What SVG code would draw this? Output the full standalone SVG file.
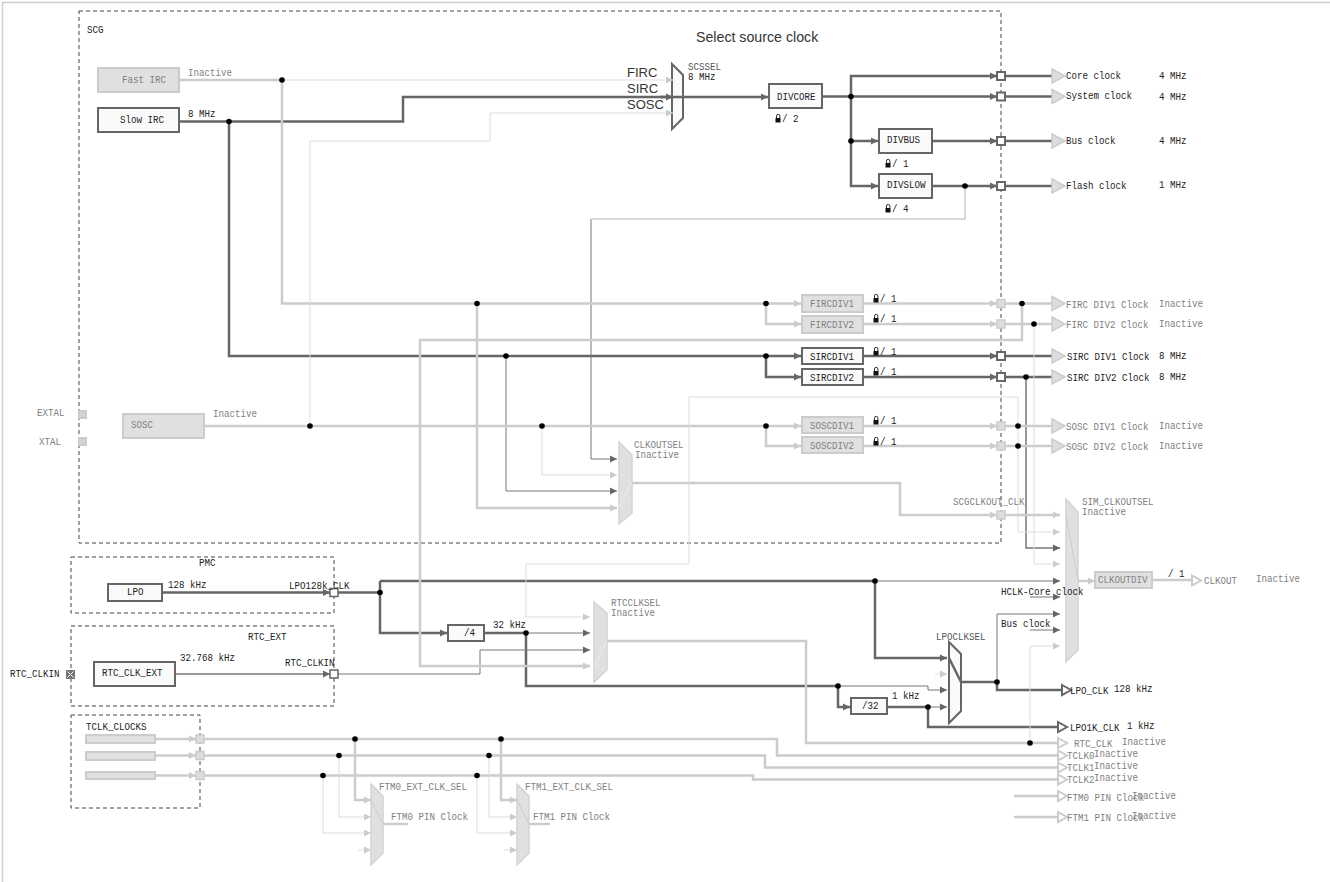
<svg xmlns="http://www.w3.org/2000/svg" width="1330" height="882" viewBox="0 0 1330 882">
<style>
text{font-family:"Liberation Mono","DejaVu Sans Mono",monospace;font-size:11px;fill:#222}
text.g{fill:#808080}
text.k{fill:#555}
text.s{font-family:"Liberation Sans",Arial,sans-serif;font-size:14px;fill:#333}
.box{fill:none;stroke:#444;stroke-width:1;stroke-dasharray:4 3}
.na{fill:#fafafa;stroke:#666;stroke-width:2}
.ni{fill:#e0e0e0;stroke:#ccc;stroke-width:2}
.mi{fill:#e0e0e0;stroke:#d4d4d4;stroke-width:1.5}
.pa{fill:#fff;stroke:#666;stroke-width:2}
.pi{fill:#ddd;stroke:#ccc;stroke-width:1.5}
.ta{fill:#ddd;stroke:#ccc;stroke-width:1.5}
.ho{fill:#fff;stroke:#ccc;stroke-width:2}
.hd{fill:#fff;stroke:#666;stroke-width:2}
#connectors path{fill:none}
.a{stroke:#666;stroke-width:2.5}
.b{stroke:#777;stroke-width:1}
.c{stroke:#ccc;stroke-width:2.5}
.d{stroke:#ddd;stroke-width:1}
.e{stroke:#ccc;stroke-width:1.5}
.f{stroke:#eee;stroke-width:1}
.h{stroke:#ccc;stroke-width:1}
.ma{marker-end:url(#ad)}
.ml{marker-end:url(#al)}
.dot{fill:#000}
</style>
<defs>
<marker id="ad" markerUnits="userSpaceOnUse" markerWidth="7" markerHeight="8" refX="7" refY="4" orient="auto"><path d="M0 0.5L7 4L0 7.5Z" fill="#666"/></marker>
<marker id="al" markerUnits="userSpaceOnUse" markerWidth="7" markerHeight="8" refX="7" refY="4" orient="auto"><path d="M0 0.5L7 4L0 7.5Z" fill="#ccc"/></marker>
<g id="lock"><path d="M-1.5 0V-2a1.7 1.7 0 0 1 3.4 0V0" fill="none" stroke="#333" stroke-width="1"/><rect x="-2.5" y="0" width="5" height="4.5" fill="#111"/></g>
<polygon id="tri" points="0,-7 13,0 0,7"/>
<polygon id="tr2" points="0,-5 9,0 0,5"/>
<path id="xm" d="M-3 -3L3 3M3 -3L-3 3"/>
</defs>
<rect width="1330" height="882" fill="#fff"/>
<path d="M2.5 882V2.5H1330" fill="none" stroke="#d0d0d0" stroke-width="1.5"/>

<g id="frames">
<rect class="box" x="79" y="11" width="922" height="532"/>
<rect class="box" x="71" y="557" width="263" height="56"/>
<rect class="box" x="71" y="626" width="263" height="80"/>
<rect class="box" x="71" y="715" width="129" height="93"/>
<text x="87" y="33" textLength="16.5" lengthAdjust="spacingAndGlyphs">SCG</text>
<text x="199" y="566" textLength="16.5" lengthAdjust="spacingAndGlyphs">PMC</text>
<text x="248" y="640" textLength="38.5" lengthAdjust="spacingAndGlyphs">RTC_EXT</text>
<text x="86" y="730" textLength="60.5" lengthAdjust="spacingAndGlyphs">TCLK_CLOCKS</text>
</g>

<g id="nodes">
<g id="fast-irc"><rect class="ni" x="98" y="68" width="81" height="24"/><text class="g" x="122" y="83" textLength="44" lengthAdjust="spacingAndGlyphs">Fast IRC</text></g>
<g id="slow-irc"><rect class="na" x="98" y="108" width="81" height="24"/><text x="120" y="123" textLength="44" lengthAdjust="spacingAndGlyphs">Slow IRC</text></g>
<g id="sosc"><rect class="ni" x="123" y="414" width="81" height="24"/><text class="g" x="131" y="428" textLength="22" lengthAdjust="spacingAndGlyphs">SOSC</text></g>
<g id="scssel"><polygon class="na" points="672,64 683,75 683,118 672,129"/><text x="688" y="70" class="k" textLength="33" lengthAdjust="spacingAndGlyphs">SCSSEL</text><text x="688" y="80" textLength="27.5" lengthAdjust="spacingAndGlyphs">8 MHz</text></g>
<g id="divcore"><rect class="na" x="769" y="84" width="53" height="24"/><text x="777" y="100" textLength="38.5" lengthAdjust="spacingAndGlyphs">DIVCORE</text></g>
<g id="divbus"><rect class="na" x="879" y="129" width="53" height="24"/><text x="887" y="143" textLength="33" lengthAdjust="spacingAndGlyphs">DIVBUS</text></g>
<g id="divslow"><rect class="na" x="879" y="174" width="53" height="24"/><text x="887" y="188" textLength="38.5" lengthAdjust="spacingAndGlyphs">DIVSLOW</text></g>
<g id="fircdiv1"><rect class="ni" x="802" y="295" width="61" height="17"/><text class="g" x="810" y="307" textLength="44" lengthAdjust="spacingAndGlyphs">FIRCDIV1</text></g>
<g id="fircdiv2"><rect class="ni" x="802" y="316" width="61" height="17"/><text class="g" x="810" y="328" textLength="44" lengthAdjust="spacingAndGlyphs">FIRCDIV2</text></g>
<g id="sircdiv1"><rect class="na" x="802" y="348" width="61" height="16"/><text x="810" y="360" textLength="44" lengthAdjust="spacingAndGlyphs">SIRCDIV1</text></g>
<g id="sircdiv2"><rect class="na" x="802" y="369" width="61" height="16"/><text x="810" y="381" textLength="44" lengthAdjust="spacingAndGlyphs">SIRCDIV2</text></g>
<g id="soscdiv1"><rect class="ni" x="802" y="417" width="61" height="16"/><text class="g" x="810" y="429" textLength="44" lengthAdjust="spacingAndGlyphs">SOSCDIV1</text></g>
<g id="soscdiv2"><rect class="ni" x="802" y="437" width="61" height="16"/><text class="g" x="810" y="449" textLength="44" lengthAdjust="spacingAndGlyphs">SOSCDIV2</text></g>
<g id="clkoutsel"><polygon class="mi" points="619,442 632,455 632,513 619,524"/><text class="g" x="634" y="448" textLength="49.5" lengthAdjust="spacingAndGlyphs">CLKOUTSEL</text><text class="g" x="635" y="458" textLength="44" lengthAdjust="spacingAndGlyphs">Inactive</text></g>
<g id="sim-clkoutsel"><polygon class="mi" points="1066,499 1078,512 1078,650 1066,662"/><text class="g" x="1082" y="505" textLength="71.5" lengthAdjust="spacingAndGlyphs">SIM_CLKOUTSEL</text><text class="g" x="1082" y="515" textLength="44" lengthAdjust="spacingAndGlyphs">Inactive</text></g>
<g id="clkoutdiv"><rect class="ni" x="1095" y="572" width="57" height="16"/><text class="g" x="1098" y="583" textLength="49.5" lengthAdjust="spacingAndGlyphs">CLKOUTDIV</text></g>
<g id="lpo"><rect class="na" x="108" y="584" width="54" height="17"/><text x="127" y="595" textLength="16.5" lengthAdjust="spacingAndGlyphs">LPO</text></g>
<g id="rtc-clk-ext"><rect class="na" x="94" y="662" width="81" height="24"/><text x="102" y="676" textLength="60.5" lengthAdjust="spacingAndGlyphs">RTC_CLK_EXT</text></g>
<g id="div4"><rect class="na" x="448" y="625" width="36" height="16"/><text x="464" y="636" textLength="11" lengthAdjust="spacingAndGlyphs">/4</text></g>
<g id="div32"><rect class="na" x="851" y="698" width="36" height="16"/><text x="862" y="709" textLength="16.5" lengthAdjust="spacingAndGlyphs">/32</text></g>
<g id="rtcclksel"><polygon class="mi" points="594,602 607,613 607,670 594,682"/><text class="g" x="611" y="606" textLength="49.5" lengthAdjust="spacingAndGlyphs">RTCCLKSEL</text><text class="g" x="611" y="616" textLength="44" lengthAdjust="spacingAndGlyphs">Inactive</text></g>
<g id="lpoclksel"><polygon class="na" points="949,642 961,654 961,711 949,723"/><text x="936" y="640" class="k" textLength="49.5" lengthAdjust="spacingAndGlyphs">LPOCLKSEL</text></g>
<g id="ftm0-sel"><polygon class="mi" points="371,784 383,796 383,853 371,865"/><text class="g" x="379" y="790" textLength="88" lengthAdjust="spacingAndGlyphs">FTM0_EXT_CLK_SEL</text></g>
<g id="ftm1-sel"><polygon class="mi" points="517,784 529,796 529,853 517,865"/><text class="g" x="525" y="790" textLength="88" lengthAdjust="spacingAndGlyphs">FTM1_EXT_CLK_SEL</text></g>
<g id="tclk-sources"><rect class="ni" x="86" y="735" width="69" height="8"/><rect class="ni" x="86" y="752" width="69" height="8"/><rect class="ni" x="86" y="772" width="69" height="7"/></g>
</g>

<g id="connectors">
<path class="a ma" d="M180 121.500H403V97H768"/>
<path class="a ma" d="M660 97H673"/>
<path class="a ma" d="M229 121.500V356H801"/>
<path class="a ma" d="M766 356V377H801"/>
<path class="a ma" d="M863 356H997"/>
<path class="a ma" d="M863 377H997"/>
<path class="a" d="M1005 356H1053M1005 377H1053"/>
<path class="a ma" d="M822 96.500H997"/>
<path class="a ma" d="M851 96.500V76H997"/>
<path class="a ma" d="M851 96.500V186H878"/>
<path class="a ma" d="M851 141H878"/>
<path class="a ma" d="M932 141H997"/>
<path class="a ma" d="M932 186H997"/>
<path class="a" d="M1005 76H1053M1005 96.500H1053M1005 141H1053M1005 186H1053"/>
<path class="a ma" d="M162 592.500H330"/>
<path class="a" d="M338 592.500H380"/>
<path class="a ma" d="M380 581V633H447"/>
<path class="a" d="M380 581H875"/>
<path class="a ma" d="M875 581V658H947"/>
<path class="a" d="M484 633H526V686H838"/>
<path class="a ma" d="M838 686V707H850"/>
<path class="a" d="M887 707H928V727H1058"/>
<path class="a" d="M949 658L961 682"/>
<path class="a" d="M961 682H997V690H1062"/>
<path class="b ma" d="M875 581H1060"/>
<path class="b ma" d="M526 633H590"/>
<path class="b ma" style="stroke-width:1.5" d="M175 674H330"/>
<path class="b ma" d="M338 674H480V650H590"/>
<path class="b ma" d="M838 686H928V690H947"/>
<path class="b ma" d="M928 707H947"/>
<path class="b ma" d="M506 356V491H617"/>
<path class="b ma" d="M591 219V459H617"/>
<path class="e" d="M965 186V219H591"/>
<path class="b ma" style="stroke-width:1.5" d="M1026 377V548H1060"/>
<path class="b ma" d="M1030 597H1060"/>
<path class="b ma" d="M1030 630H1060"/>
<path class="b ma" d="M997 682V614H1060"/>
<path class="c" d="M180 80H282"/>
<path class="c ml" d="M282 80V303.500H801"/>
<path class="c ml" d="M766 303.500V324H801"/>
<path class="c ml" d="M863 303.500H997"/>
<path class="c ml" d="M863 324H997"/>
<path class="c" d="M1005 303.500H1053M1005 324H1053"/>
<path class="c ml" d="M1022 303.500V340H420V666H590"/>
<path class="c ml" d="M477 303.500V508H617"/>
<path class="c ml" d="M204 426H801"/>
<path class="c ml" d="M766 426V446H801"/>
<path class="c ml" d="M863 426H997"/>
<path class="c ml" d="M863 446H997"/>
<path class="c" d="M1005 426H1053M1005 446H1053"/>
<path class="c ml" d="M632 483H900V515H997"/>
<path class="c ml" d="M1005 515H1060"/>
<path class="c ml" d="M1078 581H1095"/>
<path class="c" d="M1152 580H1192"/>
<path class="c" d="M607 641H806V743H1058"/>
<path class="c ml" d="M155 739H196"/>
<path class="c ml" d="M155 755.500H196"/>
<path class="c ml" d="M155 775.500H196"/>
<path class="c" d="M204 739H777V755.500H1058"/>
<path class="c" d="M204 755.500H765V767.500H1058"/>
<path class="c" d="M204 775.500H753V779.500H1058"/>
<path class="c ml" d="M355 739V800H371"/>
<path class="c ml" d="M501 739V800H517"/>
<path class="c" d="M383 824H408M529 824H550"/>
<path class="c" d="M1014 796H1058M1014 817H1058"/>
<path class="d ml" d="M282 80H673"/>
<path class="d ml" d="M310 426V141H490V113H673"/>
<path class="d ml" d="M542 426V475H617"/>
<path class="d ml" d="M1034 324V564H1060"/>
<path class="d ml" d="M1018 532V397H689V564H526V617H590"/>
<path class="d ml" d="M1018 532H1060"/>
<path class="d ml" d="M1030 743V646H1060"/>
<path class="d ml" d="M339 755.500V817H371"/>
<path class="d ml" d="M323 775.500V833H371"/>
<path class="d ml" d="M489 755.500V817H517"/>
<path class="d ml" d="M477 775.500V833H517"/>
<path class="d ml" d="M358 850H371"/>
<path class="d ml" d="M504 850H517"/>
<path class="d ml" d="M935 674H947"/>
<path class="f" d="M619 507L632 483M594 666L607 641"/>
<path class="h" d="M1066 516L1078 580M371 800L383 824M517 800L529 824"/>
<g id="junctions">
<circle class="dot" cx="282" cy="80" r="2.800"/><circle class="dot" cx="229" cy="121.500" r="2.800"/>
<circle class="dot" cx="851" cy="96.500" r="2.800"/><circle class="dot" cx="851" cy="141" r="2.800"/><circle class="dot" cx="965" cy="186" r="2.800"/>
<circle class="dot" cx="477" cy="303.500" r="2.800"/><circle class="dot" cx="766" cy="303.500" r="2.800"/><circle class="dot" cx="1022" cy="303.500" r="2.800"/><circle class="dot" cx="1034" cy="324" r="2.800"/>
<circle class="dot" cx="506" cy="356" r="2.800"/><circle class="dot" cx="766" cy="356" r="2.800"/><circle class="dot" cx="1026" cy="377" r="2.800"/>
<circle class="dot" cx="310" cy="426" r="2.800"/><circle class="dot" cx="542" cy="426" r="2.800"/><circle class="dot" cx="766" cy="426" r="2.800"/><circle class="dot" cx="1018" cy="426" r="2.800"/><circle class="dot" cx="1018" cy="446" r="2.800"/>
<circle class="dot" cx="380" cy="592.500" r="2.800"/><circle class="dot" cx="875" cy="581" r="2.800"/><circle class="dot" cx="526" cy="633" r="2.800"/><circle class="dot" cx="838" cy="686" r="2.800"/><circle class="dot" cx="928" cy="707" r="2.800"/><circle class="dot" cx="997" cy="682" r="2.800"/><circle class="dot" cx="1030" cy="743" r="2.800"/>
<circle class="dot" cx="355" cy="739" r="2.800"/><circle class="dot" cx="339" cy="755.500" r="2.800"/><circle class="dot" cx="323" cy="775.500" r="2.800"/><circle class="dot" cx="501" cy="739" r="2.800"/><circle class="dot" cx="489" cy="755.500" r="2.800"/><circle class="dot" cx="477" cy="775.500" r="2.800"/>
</g>
</g>

<g id="ports">
<rect class="pa" x="997" y="72" width="8" height="8"/><rect class="pa" x="997" y="92.500" width="8" height="8"/><rect class="pa" x="997" y="137" width="8" height="8"/><rect class="pa" x="997" y="182" width="8" height="8"/>
<rect class="pa" x="997" y="352" width="8" height="8"/><rect class="pa" x="997" y="373" width="8" height="8"/>
<rect class="pi" x="997" y="299.500" width="8" height="8"/><rect class="pi" x="997" y="320" width="8" height="8"/><rect class="pi" x="997" y="422" width="8" height="8"/><rect class="pi" x="997" y="442" width="8" height="8"/><rect class="pi" x="997" y="511" width="8" height="8"/>
<rect class="pa" x="330" y="588.500" width="8" height="8" style="stroke-width:1.500"/><rect class="pa" x="330" y="670" width="8" height="8" style="stroke-width:1.500"/>
<rect class="pi" x="196" y="735" width="8" height="8"/><rect class="pi" x="196" y="751.500" width="8" height="8"/><rect class="pi" x="196" y="771.500" width="8" height="8"/>
<g id="pad-extal"><rect x="78" y="410" width="9" height="9" fill="#ccc"/><use href="#xm" x="82.500" y="414.500" stroke="#ddd"/></g>
<g id="pad-xtal"><rect x="78" y="437" width="9" height="9" fill="#ccc"/><use href="#xm" x="82.500" y="441.500" stroke="#ddd"/></g>
<g id="pad-rtc"><rect x="66" y="670" width="9" height="9" fill="#777"/><use href="#xm" x="70.500" y="674.500" stroke="#eee"/></g>
</g>

<g id="outputs">
<g class="ta"><use href="#tri" x="1052" y="76"/><use href="#tri" x="1052" y="96.500"/><use href="#tri" x="1052" y="141"/><use href="#tri" x="1052" y="186"/><use href="#tri" x="1052" y="303.500"/><use href="#tri" x="1052" y="324"/><use href="#tri" x="1052" y="356"/><use href="#tri" x="1052" y="377"/><use href="#tri" x="1052" y="426"/><use href="#tri" x="1052" y="446"/></g>
<g class="ho"><use href="#tr2" x="1192" y="580.500"/><use href="#tr2" x="1058" y="743"/><use href="#tr2" x="1058" y="755.500"/><use href="#tr2" x="1058" y="767.500"/><use href="#tr2" x="1058" y="779.500"/><use href="#tr2" x="1058" y="796"/><use href="#tr2" x="1058" y="817"/></g>
<g class="hd"><use href="#tr2" x="1062" y="690"/><use href="#tr2" x="1058" y="727"/></g>
</g>

<g id="locks">
<use href="#lock" x="778" y="118"/><use href="#lock" x="888" y="163"/><use href="#lock" x="888" y="208"/>
<use href="#lock" x="876" y="298"/><use href="#lock" x="876" y="318"/><use href="#lock" x="876" y="351"/><use href="#lock" x="876" y="371"/><use href="#lock" x="876" y="420"/><use href="#lock" x="876" y="441"/>
</g>

<g id="labels">
<text class="s" x="696" y="42" style="font-size:14.200px">Select source clock</text>
<text class="s" x="627" y="77" style="font-size:13px">FIRC</text><text class="s" x="627" y="93" style="font-size:13px">SIRC</text><text class="s" x="627" y="109" style="font-size:13px">SOSC</text>
<text class="g" x="188" y="76" textLength="44" lengthAdjust="spacingAndGlyphs">Inactive</text>
<text x="188" y="117" textLength="27.5" lengthAdjust="spacingAndGlyphs">8 MHz</text>
<text class="g" x="213" y="417" textLength="44" lengthAdjust="spacingAndGlyphs">Inactive</text>
<text class="g" x="37" y="416" textLength="27.5" lengthAdjust="spacingAndGlyphs">EXTAL</text>
<text class="g" x="39" y="445" textLength="22" lengthAdjust="spacingAndGlyphs">XTAL</text>
<text x="782" y="122" textLength="16.5" lengthAdjust="spacingAndGlyphs">/ 2</text>
<text x="892" y="167" textLength="16.5" lengthAdjust="spacingAndGlyphs">/ 1</text>
<text x="892" y="212" textLength="16.5" lengthAdjust="spacingAndGlyphs">/ 4</text>
<text x="880" y="302" textLength="16.5" lengthAdjust="spacingAndGlyphs">/ 1</text><text x="880" y="322" textLength="16.5" lengthAdjust="spacingAndGlyphs">/ 1</text><text x="880" y="355" textLength="16.5" lengthAdjust="spacingAndGlyphs">/ 1</text><text x="880" y="375" textLength="16.5" lengthAdjust="spacingAndGlyphs">/ 1</text><text x="880" y="424" textLength="16.5" lengthAdjust="spacingAndGlyphs">/ 1</text><text x="880" y="445" textLength="16.5" lengthAdjust="spacingAndGlyphs">/ 1</text>
<text x="1066" y="79" textLength="55" lengthAdjust="spacingAndGlyphs">Core clock</text><text x="1159" y="79" textLength="27.5" lengthAdjust="spacingAndGlyphs">4 MHz</text>
<text x="1066" y="99" textLength="66" lengthAdjust="spacingAndGlyphs">System clock</text><text x="1159" y="100" textLength="27.5" lengthAdjust="spacingAndGlyphs">4 MHz</text>
<text x="1066" y="144" textLength="49.5" lengthAdjust="spacingAndGlyphs">Bus clock</text><text x="1159" y="144" textLength="27.5" lengthAdjust="spacingAndGlyphs">4 MHz</text>
<text x="1066" y="189" textLength="60.5" lengthAdjust="spacingAndGlyphs">Flash clock</text><text x="1159" y="188" textLength="27.5" lengthAdjust="spacingAndGlyphs">1 MHz</text>
<text class="g" x="1066" y="308" textLength="82.500" lengthAdjust="spacingAndGlyphs">FIRC DIV1 Clock</text><text class="g" x="1159" y="307" textLength="44" lengthAdjust="spacingAndGlyphs">Inactive</text>
<text class="g" x="1066" y="328" textLength="82.500" lengthAdjust="spacingAndGlyphs">FIRC DIV2 Clock</text><text class="g" x="1159" y="327" textLength="44" lengthAdjust="spacingAndGlyphs">Inactive</text>
<text x="1067" y="360" textLength="82.500" lengthAdjust="spacingAndGlyphs">SIRC DIV1 Clock</text><text x="1159" y="359" textLength="27.5" lengthAdjust="spacingAndGlyphs">8 MHz</text>
<text x="1067" y="381" textLength="82.500" lengthAdjust="spacingAndGlyphs">SIRC DIV2 Clock</text><text x="1159" y="380" textLength="27.5" lengthAdjust="spacingAndGlyphs">8 MHz</text>
<text class="g" x="1066" y="430" textLength="82.500" lengthAdjust="spacingAndGlyphs">SOSC DIV1 Clock</text><text class="g" x="1159" y="429" textLength="44" lengthAdjust="spacingAndGlyphs">Inactive</text>
<text class="g" x="1066" y="450" textLength="82.500" lengthAdjust="spacingAndGlyphs">SOSC DIV2 Clock</text><text class="g" x="1159" y="449" textLength="44" lengthAdjust="spacingAndGlyphs">Inactive</text>
<text class="g" x="953" y="505" textLength="71.5" lengthAdjust="spacingAndGlyphs">SCGCLKOUT_CLK</text>
<text x="1168" y="577" textLength="16.5" lengthAdjust="spacingAndGlyphs">/ 1</text>
<text class="g" x="1204" y="584" textLength="33" lengthAdjust="spacingAndGlyphs">CLKOUT</text><text class="g" x="1256" y="582" textLength="44" lengthAdjust="spacingAndGlyphs">Inactive</text>
<text x="1001" y="595" textLength="82.500" lengthAdjust="spacingAndGlyphs">HCLK-Core clock</text>
<text x="1001" y="627" textLength="49.5" lengthAdjust="spacingAndGlyphs">Bus clock</text>
<text x="168" y="588" textLength="38.5" lengthAdjust="spacingAndGlyphs">128 kHz</text>
<text x="289" y="589" textLength="60.5" lengthAdjust="spacingAndGlyphs">LPO128k_CLK</text>
<text x="180" y="661" textLength="55" lengthAdjust="spacingAndGlyphs">32.768 kHz</text>
<text x="285" y="666" textLength="49.5" lengthAdjust="spacingAndGlyphs">RTC_CLKIN</text>
<text x="10" y="677" textLength="49.5" lengthAdjust="spacingAndGlyphs">RTC_CLKIN</text>
<text x="493" y="628" textLength="33" lengthAdjust="spacingAndGlyphs">32 kHz</text>
<text x="892" y="699" textLength="27.5" lengthAdjust="spacingAndGlyphs">1 kHz</text>
<text x="1070" y="694" textLength="38.5" lengthAdjust="spacingAndGlyphs">LPO_CLK</text><text x="1114" y="692" textLength="38.5" lengthAdjust="spacingAndGlyphs">128 kHz</text>
<text x="1070" y="731" textLength="49.5" lengthAdjust="spacingAndGlyphs">LPO1K_CLK</text><text x="1127" y="729" textLength="27.5" lengthAdjust="spacingAndGlyphs">1 kHz</text>
<text class="g" x="1074" y="747" textLength="38.5" lengthAdjust="spacingAndGlyphs">RTC_CLK</text><text class="g" x="1122" y="745" textLength="44" lengthAdjust="spacingAndGlyphs">Inactive</text>
<text class="g" x="1067" y="759" textLength="27.5" lengthAdjust="spacingAndGlyphs">TCLK0</text><text class="g" x="1094" y="757" textLength="44" lengthAdjust="spacingAndGlyphs">Inactive</text>
<text class="g" x="1067" y="771" textLength="27.5" lengthAdjust="spacingAndGlyphs">TCLK1</text><text class="g" x="1094" y="769" textLength="44" lengthAdjust="spacingAndGlyphs">Inactive</text>
<text class="g" x="1067" y="783" textLength="27.5" lengthAdjust="spacingAndGlyphs">TCLK2</text><text class="g" x="1094" y="781" textLength="44" lengthAdjust="spacingAndGlyphs">Inactive</text>
<text class="g" x="391" y="820" textLength="77" lengthAdjust="spacingAndGlyphs">FTM0 PIN Clock</text>
<text class="g" x="533" y="820" textLength="77" lengthAdjust="spacingAndGlyphs">FTM1 PIN Clock</text>
<text class="g" x="1067" y="801" textLength="77" lengthAdjust="spacingAndGlyphs">FTM0 PIN Clock</text><text class="g" x="1132" y="799" textLength="44" lengthAdjust="spacingAndGlyphs">Inactive</text>
<text class="g" x="1067" y="821" textLength="77" lengthAdjust="spacingAndGlyphs">FTM1 PIN Clock</text><text class="g" x="1132" y="819" textLength="44" lengthAdjust="spacingAndGlyphs">Inactive</text>
</g>
</svg>
